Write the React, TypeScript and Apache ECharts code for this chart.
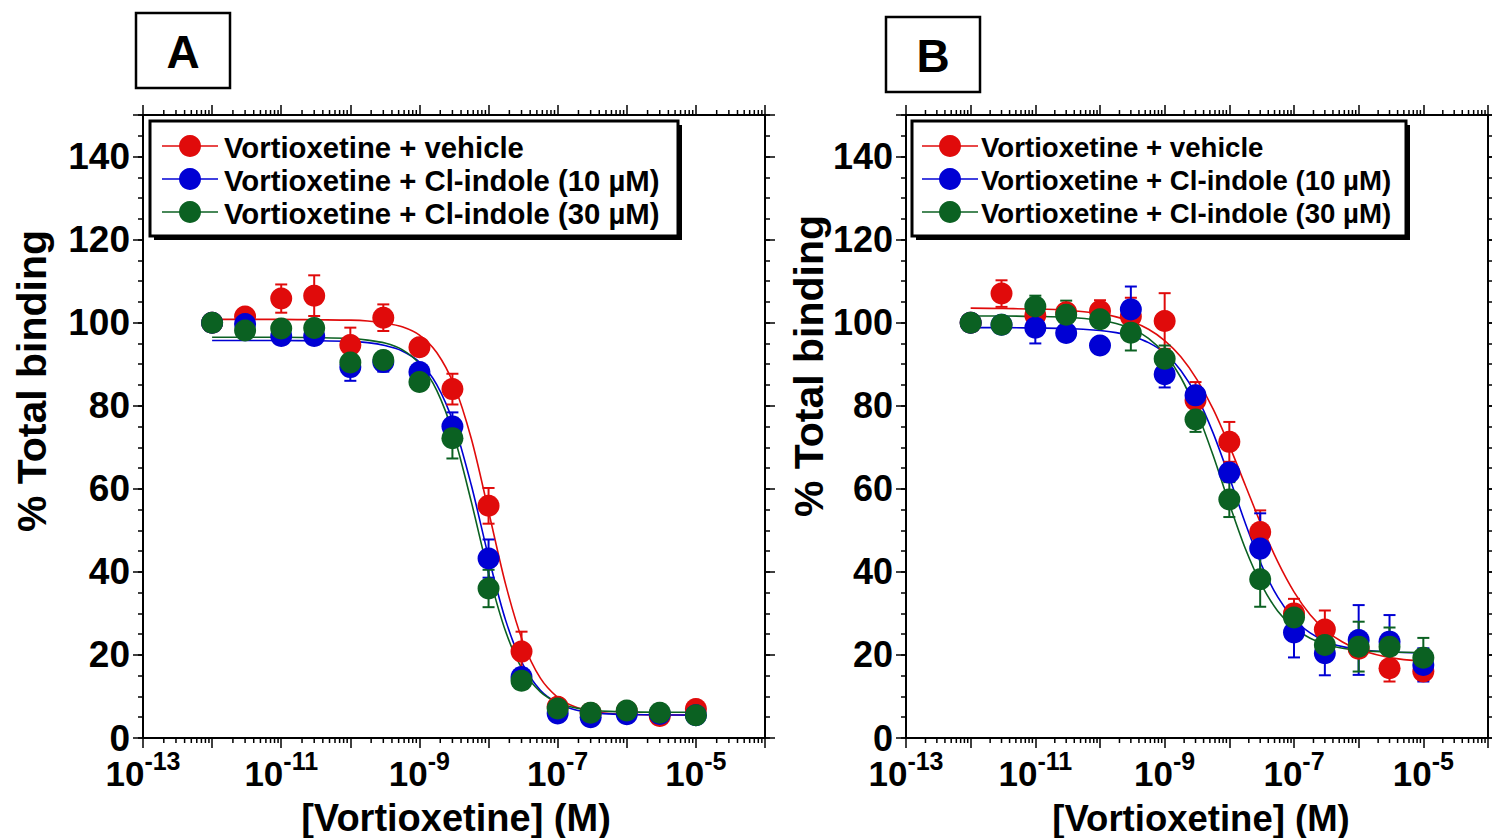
import React, { useEffect, useRef } from 'react';
import * as echarts from 'echarts';

// ---------------- data ----------------
const concentrations = [1e-12, 3e-12, 1e-11, 3e-11, 1e-10, 3e-10, 1e-9, 3e-9, 1e-8, 3e-8, 1e-7, 3e-7, 1e-6, 3e-6, 1e-5];
const seriesNames = ['Vortioxetine + vehicle', 'Vortioxetine + Cl-indole (10 µM)', 'Vortioxetine + Cl-indole (30 µM)'];
const seriesColors = ['#e00b0b', '#0000d4', '#0b6122'];

// Panel A (% total binding, mean and error)
const vehicleA = [100, 101.5, 105.8, 106.5, 94.6, 101.2, 94.1, 84.0, 55.9, 20.8, 7.5, 6.0, 6.5, 5.3, 7.0];
const vehicleAErr = [0, 1.5, 3.4, 4.9, 4.2, 3.2, 1.5, 3.7, 4.3, 4.8, 1, 1, 1, 1, 1];
const indole10A = [100, 99.7, 96.8, 96.8, 89.3, 90.5, 88.1, 75.0, 43.2, 14.7, 5.9, 5.0, 5.7, 5.8, 5.5];
const indole10AErr = [0, 1, 1.5, 1.5, 3.3, 2.3, 1.5, 3.4, 4.6, 2, 1, 1, 1, 1, 1];
const indole30A = [100, 98.1, 98.6, 98.7, 90.4, 91.0, 85.7, 72.2, 36.0, 13.8, 7.1, 6.1, 6.6, 6.1, 5.5];
const indole30AErr = [0, 1, 1, 1, 2, 2, 1.5, 4.9, 4.5, 2, 1, 1, 1, 1, 1];

// Panel B
const vehicleB = [100, 107.0, 101.8, 102.5, 102.8, 101.5, 100.4, 81.3, 71.3, 49.6, 30.0, 26.1, 21.5, 16.8, 16.0];
const vehicleBErr = [0, 3.2, 2, 2, 2.6, 4.5, 6.7, 4.4, 4.8, 5.2, 3.5, 4.6, 2, 3.2, 2];
const indole10B = [100, 99.5, 98.8, 97.5, 94.5, 103.2, 87.6, 82.5, 63.9, 45.6, 25.4, 20.4, 23.6, 23.2, 17.6];
const indole10BErr = [0, 1, 3.8, 1.5, 1.5, 5.5, 3.2, 2, 2, 8.5, 6.0, 5.3, 8.4, 6.4, 4.0];
const indole30B = [100, 99.5, 103.9, 101.9, 100.8, 97.6, 91.3, 76.7, 57.4, 38.2, 29.0, 22.4, 22.0, 22.0, 19.3];
const indole30BErr = [0, 1, 2.6, 3.4, 1.5, 4.3, 3.2, 3.0, 4.2, 6.6, 2, 2, 6.0, 4.6, 4.8];

// Fitted curves, at log10 concentrations
const fitLogX = [-12, -11.5, -11, -10.5, -10, -9.75, -9.5, -9.25, -9, -8.75, -8.5, -8.25, -8, -7.75, -7.5, -7.25, -7, -6.75, -6.5, -6.25, -6, -5.5, -5];
const fitVehicleA = [100.8, 100.8, 100.8, 100.7, 100.6, 100.4, 99.9, 99.0, 97.0, 92.8, 85.0, 72.1, 54.6, 36.8, 23.0, 14.4, 9.8, 7.5, 6.4, 5.9, 5.7, 5.55, 5.5];
const fitIndole10A = [95.7, 95.7, 95.7, 95.65, 95.5, 95.2, 94.5, 93.2, 90.5, 85.1, 75.5, 60.9, 43.6, 28.2, 17.6, 11.5, 8.4, 6.8, 6.1, 5.8, 5.65, 5.55, 5.5];
const fitIndole30A = [96.5, 96.5, 96.5, 96.4, 96.2, 95.8, 95.1, 93.5, 90.1, 83.7, 72.7, 56.9, 39.7, 25.5, 16.2, 11.1, 8.5, 7.3, 6.7, 6.4, 6.3, 6.2, 6.2];
const fitVehicleB = [103.5, 103.4, 103.3, 103.0, 102.2, 101.4, 100.2, 98.4, 95.7, 91.8, 86.3, 79.2, 70.4, 60.75, 51.1, 42.4, 35.2, 29.7, 25.8, 23.1, 21.3, 19.3, 18.5];
const fitIndole10B = [98.8, 98.8, 98.7, 98.6, 98.1, 97.6, 96.7, 95.2, 92.7, 88.5, 82.2, 73.4, 62.8, 51.6, 41.6, 33.9, 28.6, 25.3, 23.2, 22.0, 21.3, 20.7, 20.5];
const fitIndole30B = [101.6, 101.6, 101.5, 101.3, 100.6, 99.8, 98.5, 96.2, 92.5, 86.8, 78.5, 68.0, 56.4, 45.5, 36.8, 30.5, 26.5, 24.0, 22.5, 21.6, 21.1, 20.7, 20.6];

// Axis settings
const xMinExp = -13;
const xMaxExp = -4;
const yMin = 0;
const yMax = 150;
const yMajor = 20;
const yMinor = 5;
const xTitle = '[Vortioxetine] (M)';
const yTitle = '% Total binding';
const panelLetters = ['A', 'B'];

const FONT = '"Liberation Sans", Arial, Helvetica, sans-serif';

const panels = [
  {
    left: 143, width: 622,
    values: [vehicleA, indole10A, indole30A],
    errors: [vehicleAErr, indole10AErr, indole30AErr],
    fits: [fitVehicleA, fitIndole10A, fitIndole30A],
    yTitlePos: { x: 32, y: 381 }, xTitlePos: { x: 456, y: 818 }, xNameSize: 38, tickSize: 37,
    legend: { x: 150, y: 121, w: 528, h: 115, l1: 162, l2: 218, cx: 190, tx: 224, fs: 29.3 },
    title: { x: 136, y: 13, w: 94, h: 75 },
  },
  {
    left: 906, width: 582,
    values: [vehicleB, indole10B, indole30B],
    errors: [vehicleBErr, indole10BErr, indole30BErr],
    fits: [fitVehicleB, fitIndole10B, fitIndole30B],
    yTitlePos: { x: 809, y: 366 }, xTitlePos: { x: 1201, y: 818 }, xNameSize: 36.5, tickSize: 36,
    legend: { x: 912, y: 121, w: 494, h: 115, l1: 922, l2: 978, cx: 950, tx: 981, fs: 27.6 },
    title: { x: 886, y: 17, w: 94, h: 75 },
  },
];

const legendRowsY = [146, 179, 212];

function minorTickPositions(): number[] {
  const out: number[] = [];
  for (let n = xMinExp; n < xMaxExp; n++) {
    for (let k = 2; k <= 9; k++) out.push(n + Math.log10(k));
  }
  return out;
}

function buildOption() {
  const grid: any[] = [];
  const xAxis: any[] = [];
  const yAxis: any[] = [];
  const series: any[] = [];
  const graphic: any[] = [];
  const minorX = minorTickPositions();

  panels.forEach((p, i) => {
    grid.push({ left: p.left, top: 115, width: p.width, height: 623, containLabel: false, outerBoundsMode: 'none' });

    const baseX = {
      type: 'value', gridIndex: i, min: xMinExp, max: xMaxExp, interval: 1,
      axisLine: { show: true, onZero: false, lineStyle: { color: '#000', width: 2 } },
      axisTick: { show: true, length: 10, lineStyle: { color: '#000', width: 1.5 } },
      splitLine: { show: false },
    };
    xAxis.push({
      ...baseX, position: 'bottom',
      axisLabel: {
        margin: 12, color: '#000',
        formatter: (v: number) => {
          const e = Math.round(v);
          return Math.abs(e) % 2 === 1 ? '{b|10}{s|' + e + '}' : '';
        },
        rich: {
          b: { fontSize: 35, lineHeight: 35, fontWeight: 'bold', fontFamily: FONT, color: '#000', padding: [12, 0, 0, 0] },
          s: { fontSize: 25, lineHeight: 25, fontWeight: 'bold', fontFamily: FONT, color: '#000', padding: [0, 0, 14, 0] },
        },
      },
    });
    xAxis.push({ ...baseX, position: 'top', axisLabel: { show: false } });

    const majorY = {
      type: 'value', gridIndex: i, min: yMin, max: yMax, interval: yMajor,
      axisLine: { show: true, onZero: false, lineStyle: { color: '#000', width: 2 } },
      axisTick: { show: true, length: 10, lineStyle: { color: '#000', width: 1.5 } },
      splitLine: { show: false },
    };
    const minorY = {
      type: 'value', gridIndex: i, min: yMin, max: yMax, interval: yMinor,
      axisLine: { show: false, onZero: false },
      axisTick: { show: true, length: 5, lineStyle: { color: '#000', width: 1.5 } },
      axisLabel: { show: false },
      splitLine: { show: false },
    };
    yAxis.push({
      ...majorY, position: 'left',
      axisLabel: {
        margin: 13, color: '#000', fontSize: p.tickSize, fontWeight: 'bold', fontFamily: FONT,
        formatter: (v: number) => (v % yMajor === 0 ? String(v) : ''),
      },
    });
    yAxis.push({ ...minorY, position: 'left' });
    yAxis.push({ ...majorY, position: 'right', axisLabel: { show: false } });
    yAxis.push({ ...minorY, position: 'right' });

    const xi = i * 2;
    const yi = i * 4;

    // fit curves
    p.fits.forEach((fit, k) => {
      series.push({
        type: 'line', name: seriesNames[k] + ' fit', xAxisIndex: xi, yAxisIndex: yi,
        data: fitLogX.map((x, j) => [x, fit[j]]),
        showSymbol: false, symbol: 'none', smooth: 0.3,
        lineStyle: { color: seriesColors[k], width: 1.6 }, z: 2, silent: true,
      });
    });

    // error bars + points
    p.values.forEach((vals, k) => {
      const color = seriesColors[k];
      const errs = p.errors[k];
      series.push({
        type: 'custom', name: seriesNames[k] + ' error', xAxisIndex: xi, yAxisIndex: yi, z: 3, silent: true,
        data: concentrations.map((c, j) => [Math.log10(c), vals[j], errs[j]]),
        encode: { x: 0, y: 1 },
        renderItem: (params: any, api: any) => {
          const x = api.value(0), y = api.value(1), e = api.value(2);
          if (!e) return { type: 'group', children: [] };
          const top = api.coord([x, y + e]);
          const bot = api.coord([x, y - e]);
          const half = 6;
          const st = { stroke: color, lineWidth: 2 };
          return {
            type: 'group', children: [
              { type: 'line', shape: { x1: top[0], y1: top[1], x2: bot[0], y2: bot[1] }, style: st },
              { type: 'line', shape: { x1: top[0] - half, y1: top[1], x2: top[0] + half, y2: top[1] }, style: st },
              { type: 'line', shape: { x1: bot[0] - half, y1: bot[1], x2: bot[0] + half, y2: bot[1] }, style: st },
            ],
          };
        },
      });
      series.push({
        type: 'scatter', name: seriesNames[k], xAxisIndex: xi, yAxisIndex: yi, z: 3,
        data: concentrations.map((c, j) => [Math.log10(c), vals[j]]),
        symbol: 'circle', symbolSize: 22,
        itemStyle: { color, opacity: 1 },
      });
    });

    // minor log ticks on bottom and top x axes
    series.push({
      type: 'custom', xAxisIndex: xi, yAxisIndex: yi, z: 4, silent: true, clip: false,
      data: minorX.map((v) => [v, yMin]),
      encode: { x: 0, y: 1 },
      renderItem: (params: any, api: any) => {
        const v = api.value(0);
        const b = api.coord([v, yMin]);
        const t = api.coord([v, yMax]);
        const st = { stroke: '#000', lineWidth: 1.5 };
        return {
          type: 'group', children: [
            { type: 'line', shape: { x1: b[0], y1: b[1], x2: b[0], y2: b[1] + 5 }, style: st },
            { type: 'line', shape: { x1: t[0], y1: t[1], x2: t[0], y2: t[1] - 5 }, style: st },
          ],
        };
      },
    });

    // axis titles
    graphic.push({
      type: 'text', x: p.yTitlePos.x, y: p.yTitlePos.y, rotation: Math.PI / 2, z: 10,
      style: {
        text: yTitle, font: `bold 41px ${FONT}`, fill: '#000',
        textAlign: 'center', textVerticalAlign: 'middle', align: 'center', verticalAlign: 'middle',
      },
    });
    graphic.push({
      type: 'text', x: p.xTitlePos.x, y: p.xTitlePos.y, z: 10,
      style: {
        text: xTitle, font: `bold ${p.xNameSize}px ${FONT}`, fill: '#000',
        textAlign: 'center', textVerticalAlign: 'middle', align: 'center', verticalAlign: 'middle',
      },
    });

    // legend box
    const L = p.legend;
    graphic.push({ type: 'rect', shape: { x: L.x + 4, y: L.y + 4, width: L.w, height: L.h }, style: { fill: '#000' }, z: 10 });
    graphic.push({ type: 'rect', shape: { x: L.x, y: L.y, width: L.w, height: L.h }, style: { fill: '#fff', stroke: '#000', lineWidth: 3 }, z: 11 });
    seriesNames.forEach((nm, k) => {
      const y = legendRowsY[k];
      graphic.push({ type: 'line', shape: { x1: L.l1, y1: y, x2: L.l2, y2: y }, style: { stroke: seriesColors[k], lineWidth: 1.6 }, z: 12 });
      graphic.push({ type: 'circle', shape: { cx: L.cx, cy: y, r: 11 }, style: { fill: seriesColors[k] }, z: 13 });
      graphic.push({
        type: 'text', x: L.tx, y: y + 1, z: 13,
        style: {
          text: nm, font: `bold ${L.fs}px ${FONT}`, fill: '#000',
          textAlign: 'left', textVerticalAlign: 'middle', align: 'left', verticalAlign: 'middle',
        },
      });
    });

    // panel letter box
    const T = p.title;
    graphic.push({ type: 'rect', shape: { x: T.x, y: T.y, width: T.w, height: T.h }, style: { fill: '#fff', stroke: '#000', lineWidth: 2.5 }, z: 10 });
    graphic.push({
      type: 'text', x: T.x + T.w / 2, y: T.y + T.h / 2 + 1, z: 11,
      style: {
        text: panelLetters[i], font: `bold 46px ${FONT}`, fill: '#000',
        textAlign: 'center', textVerticalAlign: 'middle', align: 'center', verticalAlign: 'middle',
      },
    });
  });

  return {
    animation: false,
    backgroundColor: '#fff',
    grid, xAxis, yAxis, series, graphic,
  };
}

export default function App() {
  const ref = useRef<HTMLDivElement>(null);
  useEffect(() => {
    const chart = echarts.init(ref.current as HTMLDivElement, undefined, { renderer: 'svg' });
    chart.setOption(buildOption() as any);
    return () => chart.dispose();
  }, []);
  return (
    <div
      ref={ref}
      style={{ position: 'fixed', left: 0, top: 0, width: 1492, height: 838, background: '#fff' }}
    />
  );
}
